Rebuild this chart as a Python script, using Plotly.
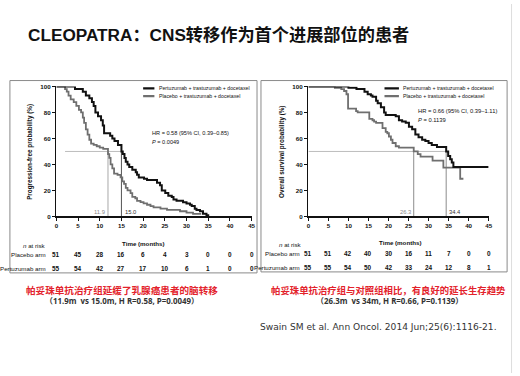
import plotly.graph_objects as go

W, H = 520, 376

# ---------------- data ----------------
time_ticks = [0, 5, 10, 15, 20, 25, 30, 35, 40, 45]
prob_ticks = [0, 20, 40, 60, 80, 100]

# Left: progression-free survival (CNS as first site of progression)
pfs_per_t = [0, 4.3, 6.1, 6.8, 7.6, 8.2, 8.6, 9.0, 9.6, 10.3, 10.7, 11.0, 12.4, 12.9, 13.4, 14.2, 15.0,
             15.3, 15.7, 16.0, 16.4, 16.8, 17.5, 18.3, 18.6, 19.0, 20.2, 20.9, 23.2, 23.9, 24.3,
             25.1, 25.8, 26.6, 27.0, 27.7, 29.2, 30.0, 30.8, 31.2, 31.9, 32.3, 33.1, 33.8, 34.6, 35.0]
pfs_per_s = [100, 98, 96, 93, 91, 88, 85, 80, 77, 74, 70, 64, 62, 60, 58, 55, 50,
             48, 45, 42, 40, 38, 36, 34, 32, 30, 29, 28, 26, 24, 20,
             18, 16, 15, 13, 12, 11, 10, 9, 8, 6, 5, 4, 2, 1, 0]
pfs_pla_t = [0, 2.0, 2.4, 2.8, 3.3, 4.0, 4.6, 5.2, 5.7, 6.1, 6.4, 6.8, 7.2, 7.6, 8.0, 8.6, 9.3, 10.0,
             10.8, 11.9, 12.2, 12.5, 12.9, 13.3, 14.1, 14.8, 15.2, 15.6, 16.0, 16.4, 17.1, 17.5,
             18.2, 18.6, 19.4, 20.1, 20.9, 21.7, 22.4, 24.0, 25.5, 28.5, 30.0, 31.5, 33.4]
pfs_pla_s = [100, 98, 96, 93, 90, 88, 85, 82, 80, 76, 72, 67, 63, 59, 56, 55, 54, 53,
             52, 48, 45, 40, 37, 33, 32, 30, 27, 25, 22, 20, 18, 15,
             14, 12, 11, 10, 9, 8, 7, 6, 5, 4, 3, 2, 2]
pfs_medians = [11.9, 15.0]
pfs_median_line_start = 2.0

# Right: overall survival
os_per_t = [0, 10.0, 12.0, 14.0, 14.8, 15.6, 16.0, 16.9, 17.3, 18.1, 18.9, 19.3, 21.8, 22.6, 23.4,
            24.3, 25.1, 25.9, 26.7, 27.5, 28.4, 29.2, 30.0, 30.8, 32.1, 34.4, 34.9, 35.4, 35.8, 36.2, 45.0]
os_per_s = [100, 99, 98, 96, 94, 93, 92, 89, 87, 84, 80, 78, 77, 74, 73,
            72, 69, 67, 63, 61, 59, 58, 56.5, 55, 53.5, 50, 46.5, 44, 41.5, 38, 38]
os_pla_t = [0, 6.6, 8.2, 8.9, 9.5, 9.9, 11.9, 12.3, 15.2, 16.0, 16.4, 16.9, 18.5, 19.3, 19.7, 20.1,
            20.6, 21.0, 21.8, 22.6, 26.3, 27.3, 28.0, 31.0, 33.7, 37.9, 38.7]
os_pla_s = [100, 99, 98, 96.5, 94, 83, 81, 80, 75, 74, 73, 72, 68, 65, 64, 61.5,
            59, 56.5, 54, 53, 50, 48, 46, 43, 37.5, 29, 29]
os_medians = [26.3, 34.4]
os_median_line_start = 0.0

pfs_risk_placebo = [51, 45, 28, 16, 6, 4, 3, 0, 0, 0]
pfs_risk_pertuzumab = [55, 54, 42, 27, 17, 10, 6, 1, 0, 0]
os_risk_placebo = [51, 51, 42, 40, 30, 16, 11, 7, 0, 0]
os_risk_pertuzumab = [55, 55, 54, 50, 42, 33, 24, 12, 8, 1]

arm_labels = ["Pertuzumab + trastuzumab + docetaxel", "Placebo + trastuzumab + docetaxel"]

# ---------------- helpers ----------------
def px(x):
    return x / W

def py(y):
    return 1 - y / H

BLACK = "#111111"
GRAY = "#6f6f6f"
NARROW = "Liberation Sans Narrow, Liberation Sans, Arial"
SANS = "Liberation Sans, Arial"
CJK = "Noto Sans CJK SC"

fig = go.Figure()

def km(t, s, color, width, xa, ya):
    fig.add_trace(go.Scatter(x=t, y=s, mode="lines", line=dict(color=color, width=width, shape="hv"),
                             xaxis=xa, yaxis=ya, showlegend=False, hoverinfo="skip"))

def medians(meds, start, colors, hcolor, xa, ya):
    fig.add_trace(go.Scatter(x=[start, max(meds)], y=[50, 50], mode="lines",
                             line=dict(color=hcolor, width=1), xaxis=xa, yaxis=ya,
                             showlegend=False, hoverinfo="skip"))
    for m, c in zip(meds, colors):
        fig.add_trace(go.Scatter(x=[m, m], y=[50, 0], mode="lines", line=dict(color=c, width=1),
                                 xaxis=xa, yaxis=ya, showlegend=False, hoverinfo="skip"))

medians(pfs_medians, pfs_median_line_start, ["#a8a8a8", "#555555"], "#bdbdbd", "x", "y")
medians(os_medians, os_median_line_start, ["#8c8c8c", "#8c8c8c"], "#bdbdbd", "x2", "y2")
km(pfs_pla_t, pfs_pla_s, GRAY, 1.8, "x", "y")
km(pfs_per_t, pfs_per_s, BLACK, 2.0, "x", "y")
km(os_pla_t, os_pla_s, GRAY, 1.8, "x2", "y2")
km(os_per_t, os_per_s, BLACK, 2.0, "x2", "y2")

axis_common = dict(showline=True, linecolor="#111", linewidth=1.5, ticks="outside", ticklen=3,
                   tickwidth=1, tickcolor="#111", showgrid=False, zeroline=False,
                   tickfont=dict(family=NARROW, size=6.2, color="#111", weight="bold"))
ydom = [py(216.5), py(84)]
fig.update_layout(
    width=W, height=H, margin=dict(l=0, r=0, t=0, b=0),
    paper_bgcolor="white", plot_bgcolor="rgba(0,0,0,0)",
    xaxis=dict(domain=[px(55), px(252.5)], range=[0, 45], tickvals=time_ticks, anchor="y", **axis_common),
    yaxis=dict(domain=ydom, range=[0, 100], tickvals=prob_ticks, anchor="x", **axis_common),
    xaxis2=dict(domain=[px(310), px(492.3)], range=[0, 45], tickvals=time_ticks, anchor="y2", **axis_common),
    yaxis2=dict(domain=ydom, range=[0, 100], tickvals=prob_ticks, anchor="x2", **axis_common),
    showlegend=False,
)

shapes = []
ann = []

# panel frames
shapes.append(dict(type="rect", xref="paper", yref="paper", x0=px(8), x1=px(258), y0=py(274), y1=py(78),
                   line=dict(color="#8a8a8a", width=1), layer="below"))
shapes.append(dict(type="rect", xref="paper", yref="paper", x0=px(262), x1=px(511), y0=py(273), y1=py(78),
                   line=dict(color="#8a8a8a", width=1), layer="below"))
shapes.append(dict(type="line", xref="paper", yref="paper", x0=px(515.5), x1=px(515.5), y0=0, y1=1,
                   line=dict(color="#dddddd", width=1)))

def legend(xa, ya, x0, x1, xt, ys):
    for (label, color, yv) in zip(arm_labels, [BLACK, GRAY], ys):
        shapes.append(dict(type="line", xref=xa, yref=ya, x0=x0, x1=x1, y0=yv, y1=yv,
                           line=dict(color=color, width=2.2)))
        ann.append(dict(xref=xa, yref=ya, x=xt, y=yv, text=label, showarrow=False, xanchor="left",
                        yanchor="middle", font=dict(family=NARROW, size=5.2, color="#111")))

legend("x", "y", 20.0, 22.6, 23.3, [98.5, 92.5])
legend("x2", "y2", 19.0, 22.6, 23.0, [98.5, 92.5])

def txt(x, y, text, size, xref="paper", yref="paper", xanchor="center", yanchor="middle",
        family=SANS, color="#111", angle=0, weight="normal"):
    ann.append(dict(x=x, y=y, xref=xref, yref=yref, text=text, showarrow=False, xanchor=xanchor,
                    yanchor=yanchor, textangle=angle,
                    font=dict(family=family, size=size, color=color, weight=weight)))

# HR annotations
txt(21.6, 64, "HR = 0.58 (95% CI, 0.39\u20130.85)", 5.6, "x", "y", "left", family=NARROW)
txt(21.6, 57.5, "<i>P</i> = 0.0049", 5.6, "x", "y", "left", family=NARROW)
txt(26.9, 81, "HR = 0.66 (95% CI, 0.39\u20131.11)", 5.8, "x2", "y2", "left", family=NARROW)
txt(26.9, 74.5, "<i>P</i> = 0.1139", 5.8, "x2", "y2", "left", family=NARROW)

# median labels
txt(pfs_medians[0] - 0.3, 3.5, f"{pfs_medians[0]:.1f}", 5.8, "x", "y", "right", family=NARROW, color="#8a8a8a")
txt(pfs_medians[1] + 0.3, 3.5, f"{pfs_medians[1]:.1f}", 5.8, "x", "y", "left", family=NARROW, color="#333")
txt(os_medians[0] - 0.3, 3.5, f"{os_medians[0]:.1f}", 5.8, "x2", "y2", "right", family=NARROW, color="#8a8a8a")
txt(os_medians[1] + 0.3, 3.5, f"{os_medians[1]:.1f}", 5.8, "x2", "y2", "left", family=NARROW, color="#333")

# axis titles
txt(px(29), py(151), "<b>Progression-free probability (%)</b>", 6.3, angle=-90, family=NARROW)
txt(px(283), py(151), "<b>Overall survival probability (%)</b>", 6.3, angle=-90, family=NARROW)
txt(px(143), py(244), "<b>Time (months)</b>", 6.2, family=NARROW)
txt(px(403), py(243), "<b>Time (months)</b>", 6.2, family=NARROW)

# risk tables
txt(px(33), py(246), "<i>n</i> at risk", 6.2, family=NARROW)
txt(px(47), py(255), "Placebo arm", 6.2, xanchor="right", family=NARROW)
txt(px(47), py(270), "Pertuzumab arm", 6.2, xanchor="right", family=NARROW)
txt(px(292), py(245), "<i>n</i> at risk", 6.2, family=NARROW)
txt(px(304), py(254), "Placebo arm", 6.2, xanchor="right", family=NARROW)
txt(px(304), py(268), "Pertuzumab arm", 6.2, xanchor="right", family=NARROW)
for t, a, b in zip(time_ticks, pfs_risk_placebo, pfs_risk_pertuzumab):
    txt(t, py(255), str(a), 6.4, "x", "paper", family=NARROW, weight="bold")
    txt(t, py(270), str(b), 6.4, "x", "paper", family=NARROW, weight="bold")
for t, a, b in zip(time_ticks, os_risk_placebo, os_risk_pertuzumab):
    txt(t, py(254), str(a), 6.4, "x2", "paper", family=NARROW, weight="bold")
    txt(t, py(268), str(b), 6.4, "x2", "paper", family=NARROW, weight="bold")

# title
txt(px(24), py(32), "<b>CLEOPATRA：CNS转移作为首个进展部位的患者</b>", 17.2, xanchor="left",
    family="Liberation Sans, Noto Sans CJK SC")

# captions
RED = "#e3222b"
txt(px(121), py(291), "<b>帕妥珠单抗治疗组延缓了乳腺癌患者的脑转移</b>", 9.6, family=CJK, color=RED)
txt(px(121), py(303), "<b>（11.9m  vs 15.0m, H R=0.58, P=0.0049）</b>", 7.9, family="Open Sans, " + CJK, color="#333")
txt(px(391), py(291), "<b>帕妥珠单抗治疗组与对照组相比，有良好的延长生存趋势</b>", 9.4, family=CJK, color=RED)
txt(px(392), py(303), "<b>（26.3m  vs 34m, H R=0.66, P=0.1139）</b>", 7.9, family="Open Sans, " + CJK, color="#333")

# citation
txt(px(259), py(329), "Swain SM et al. Ann Oncol. 2014 Jun;25(6):1116-21.", 9.1, xanchor="left",
    family="DejaVu Sans", color="#333")

fig.update_layout(shapes=shapes, annotations=ann)
fig.write_html("out.html", config={"displayModeBar": False, "staticPlot": True},
               post_script="document.body.style.margin='0';document.body.style.overflow='hidden';")
